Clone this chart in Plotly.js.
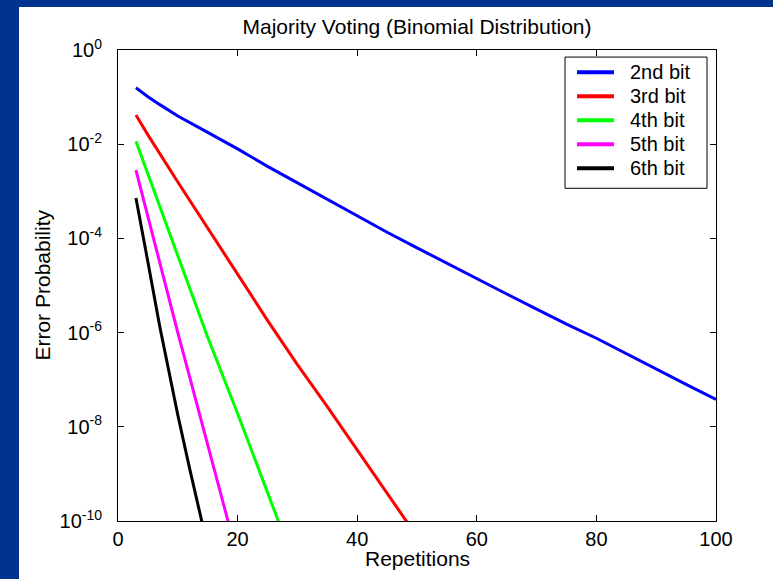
<!DOCTYPE html>
<html>
<head>
<meta charset="utf-8">
<script src="https://cdn.plot.ly/plotly-3.0.1.min.js"></script>
<style>
  html, body { margin: 0; padding: 0; width: 773px; height: 579px; background: #00338D; overflow: hidden; }
  #chart { position: absolute; left: 19px; top: 7px; width: 754px; height: 572px; background: #ffffff; }
</style>
</head>
<body>
<div id="chart"></div>
<script>
// Repetitions (x) and error probabilities (y)
const x2 = [3, 5, 7, 10, 15, 20, 25, 30, 35, 40, 45, 50, 55, 60, 65, 70, 75, 80, 85, 90, 95, 100];
const y2 = [0.158, 0.102, 0.0692, 0.0398, 0.0178, 0.00794, 0.00339, 0.00151, 6.61e-4, 2.95e-4, 1.35e-4,
            6.31e-5, 2.95e-5, 1.38e-5, 6.61e-6, 3.16e-6, 1.51e-6, 7.59e-7, 3.55e-7, 1.66e-7, 7.94e-8, 3.80e-8];

const x3 = [3, 5, 10, 15, 20, 25, 30, 35, 40, 45, 50];
const y3 = [0.0417, 0.0158, 1.58e-3, 1.70e-4, 1.74e-5, 1.82e-6, 2.09e-7, 2.69e-8, 3.31e-9, 3.98e-10, 4.68e-11];

const x4 = [3, 5, 7, 10, 15, 20, 25, 28];
const y4 = [0.0115, 2.29e-3, 4.57e-4, 4.17e-5, 7.94e-7, 1.91e-8, 4.27e-10, 3.98e-11];

const x5 = [3, 4, 5, 7, 10, 12, 15, 18, 19];
const y5 = [2.82e-3, 8.91e-4, 2.82e-4, 2.88e-5, 1.0e-6, 1.12e-7, 4.17e-9, 1.55e-10, 5.13e-11];

const x6 = [3, 4, 5, 7, 10, 12, 14, 15];
const y6 = [7.24e-4, 1.41e-4, 3.16e-5, 1.32e-6, 1.78e-8, 1.26e-9, 1.0e-10, 2.82e-11];

const seriesNames = ['2nd bit', '3rd bit', '4th bit', '5th bit', '6th bit'];
const seriesColors = ['#0000FF', '#FF0000', '#00FF00', '#FF00FF', '#000000'];

const xTickVals = [0, 20, 40, 60, 80, 100];
const yTickVals = [1, 1e-2, 1e-4, 1e-6, 1e-8, 1e-10];
const yTickText = ['10<sup>0</sup>', '10<sup>-2</sup>', '10<sup>-4</sup>', '10<sup>-6</sup>', '10<sup>-8</sup>', '10<sup>-10</sup>'];

const xs = [x2, x3, x4, x5, x6];
const ys = [y2, y3, y4, y5, y6];

const FONT = 'Liberation Sans, Arial, Helvetica, sans-serif';

const traces = xs.map((xv, i) => ({
  x: xv, y: ys[i], type: 'scatter', mode: 'lines', name: seriesNames[i],
  line: { color: seriesColors[i], width: 3 }, showlegend: false
}));

// Legend drawn MATLAB-style (box, line samples, labels) in paper coordinates
const LEG = { x0: 0.7475, x1: 0.985, y0: 0.7064, y1: 0.985, lx0: 0.7676, lx1: 0.8294, tx: 0.8528, top: 0.953, step: 0.051 };
const shapes = [{ type: 'rect', xref: 'paper', yref: 'paper', x0: LEG.x0, x1: LEG.x1, y0: LEG.y0, y1: LEG.y1,
                  line: { color: '#000', width: 1 }, fillcolor: '#ffffff', layer: 'above' }];
const annotations = [];
seriesNames.forEach((nm, i) => {
  const yy = LEG.top - i * LEG.step;
  shapes.push({ type: 'line', xref: 'paper', yref: 'paper', x0: LEG.lx0, x1: LEG.lx1, y0: yy, y1: yy,
                line: { color: seriesColors[i], width: 4 }, layer: 'above' });
  annotations.push({ xref: 'paper', yref: 'paper', x: LEG.tx, y: yy, xanchor: 'left', yanchor: 'middle',
                     text: nm, showarrow: false, font: { family: FONT, size: 20, color: '#000' } });
});
// Axis titles
annotations.push({ xref: 'paper', yref: 'paper', x: 0.5, y: -0.0787, xanchor: 'center', yanchor: 'middle',
                   text: 'Repetitions', showarrow: false, font: { family: FONT, size: 21, color: '#000' } });
annotations.push({ xref: 'paper', yref: 'paper', x: -0.127, y: 0.5, xanchor: 'center', yanchor: 'middle',
                   textangle: -90, text: 'Error Probability', showarrow: false,
                   font: { family: FONT, size: 21, color: '#000' } });

const layout = {
  width: 754, height: 572,
  margin: { l: 99, r: 57, t: 43, b: 58 },
  paper_bgcolor: '#ffffff', plot_bgcolor: '#ffffff',
  font: { family: FONT, size: 20, color: '#000000' },
  title: { text: 'Majority Voting (Binomial Distribution)', font: { family: FONT, size: 21, color: '#000' },
           x: 0.5, xref: 'paper', y: 0.965, yref: 'container', yanchor: 'middle' },
  showlegend: false,
  shapes: shapes,
  annotations: annotations,
  xaxis: {
    range: [0, 100], tickvals: xTickVals, ticks: 'inside', ticklen: 6, tickcolor: '#000',
    showline: true, linecolor: '#000', linewidth: 1, mirror: 'ticks', showgrid: false, zeroline: false,
    tickfont: { family: FONT, size: 20 }
  },
  yaxis: {
    type: 'log', range: [-10, 0], tickvals: yTickVals, ticktext: yTickText,
    ticks: 'inside', ticklen: 6, tickcolor: '#000', ticklabelstandoff: 11,
    showline: true, linecolor: '#000', linewidth: 1, mirror: 'ticks', showgrid: false, zeroline: false,
    tickfont: { family: FONT, size: 20 }
  }
};

Plotly.newPlot('chart', traces, layout, { displayModeBar: false, staticPlot: true });
</script>
</body>
</html>
